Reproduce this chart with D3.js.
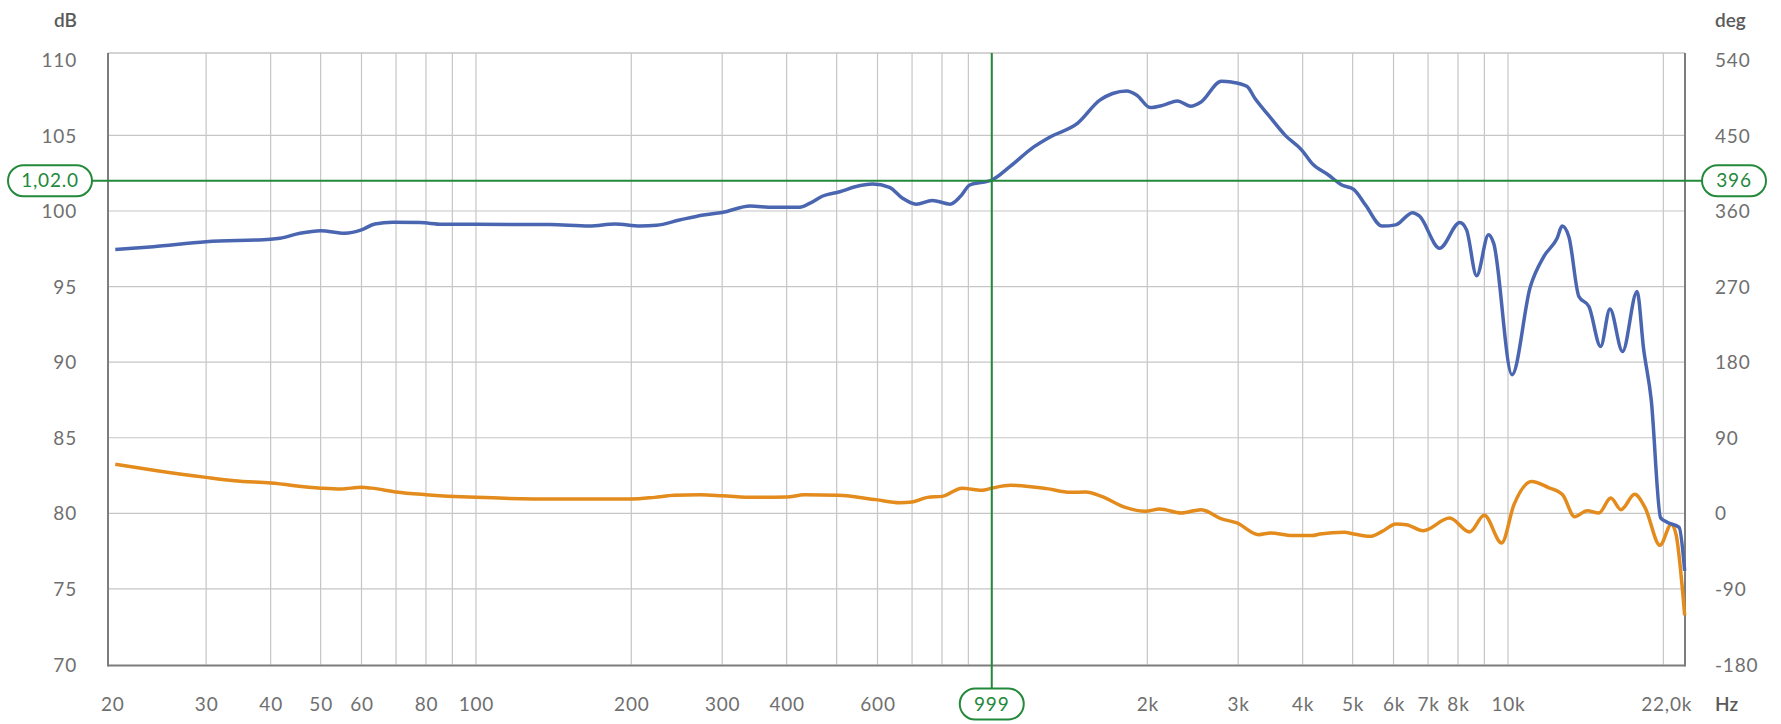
<!DOCTYPE html>
<html><head><meta charset="utf-8">
<script src="https://cdn.jsdelivr.net/npm/d3@7"></script>
<style>
body{margin:0;background:#fff}
svg{display:block;background:#fff}
text{font-family:Lato,'Open Sans',sans-serif}
</style>
</head><body>
<svg id="chart" width="1781" height="724"></svg>
<script>
// ---- data ----
const magFreq = [20,23.7,30,40,41.7,45.6,50,55.7,60,63.7,69,78,86,100,139,166,186,208,224,248,276,300,340,376,424,443,470,507,543,587,633,671,713,766,830,868,906,1000,1083,1205,1296,1464,1618,1713,1824,1909,2026,2150,2287,2427,2542,2782,2910,3118,3234,3434,3697,3984,4170,4487,4764,5023,5293,5705,6058,6531,6732,7371,8066,8311,8694,9167,9378,10180,11050,11730,12450,12730,13120,13720,14350,15120,15760,16670,17790,18310,18950,19760,20380,21460,22000];
const magDb = [97.45,97.64,97.97,98.13,98.2,98.53,98.7,98.53,98.75,99.14,99.25,99.23,99.12,99.12,99.1,99.0,99.14,99.0,99.05,99.4,99.74,99.9,100.33,100.24,100.24,100.5,100.99,101.27,101.6,101.78,101.56,100.84,100.45,100.7,100.45,100.95,101.72,102.05,102.93,104.24,104.9,105.79,107.33,107.77,107.94,107.66,106.84,107.0,107.28,106.93,107.21,108.58,108.53,108.25,107.44,106.34,105.02,104.03,103.15,102.38,101.72,101.43,100.4,99.0,99.08,99.89,99.67,97.54,99.23,98.75,95.71,98.42,97.87,89.17,95.0,96.98,98.2,99.0,98.3,94.34,93.68,91.04,93.51,90.71,94.67,90.9,87.5,79.7,79.4,79.07,76.2];

const phaseFreq = [20,24.1,30,34,40,50,54.7,60,62.8,70,80,100,145,200,222,242,272,300,345,400,433,503,596,662,700,750,801,875,956,1000,1086,1276,1418,1519,1630,1813,1983,2114,2327,2541,2777,2982,3287,3467,3820,4170,4322,4816,5023,5412,5705,6070,6353,6851,7708,8425,8997,9720,10270,11120,11950,12760,13460,14240,15000,15820,16560,17600,18450,19700,20730,21170,22000];
const phaseDeg = [58.5,50.8,42.8,38.9,36,30,29,31,30,25.4,22.2,19,17,17,19,21.4,22,21,19,19.4,22,21.4,16.3,12.7,13.5,19,20.2,30,27.4,30,33.3,29.4,25,25.4,20.2,7.1,2.4,5.2,0.4,4.4,-6.3,-11.5,-25.4,-23.4,-26.5,-26.5,-24.6,-22.6,-24.6,-27.4,-21.4,-12.7,-13.5,-20.6,-5.6,-22.2,-2.4,-35.3,10.3,38,31,22.2,-4,3.2,0.4,18.2,4.4,22.6,6.3,-38,-12.9,-25.4,-121.5];

const leftTicks = [70,75,80,85,90,95,100,105,110];
const rightTicks = [-180,-90,0,90,180,270,360,450,540];
const rightTickLabels = ["-180","-90","0","90","180","270","360","450","540"];
const xTickValues = [20,30,40,50,60,80,100,200,300,400,600,2000,3000,4000,5000,6000,7000,8000,10000,22000];
const xTickLabels = ["20","30","40","50","60","80","100","200","300","400","600","2k","3k","4k","5k","6k","7k","8k","10k","22,0k"];
const gridDecades = [10,100,1000,10000];
const cursorFreq = 999, cursorDb = 102.0, cursorDeg = 396;
const cursorLabels = {left:"1,02.0", right:"396", bottom:"999"};
const unitLabels = {left:"dB", right:"deg", x:"Hz"};

// ---- layout ----
const L = 108, R = 1685, T = 53, B = 664.5;
const xMin = 19.36, xMax = 22030, yTop = 110.45;
const svg = d3.select("#chart");
const x = d3.scaleLog().domain([xMin, xMax]).range([L, R]);
const y = d3.scaleLinear().domain([70, yTop]).range([B, T]);
const yR = d3.scaleLinear().domain([-180, (yTop - 80) * 18]).range([B, T]);

const GRID = "#c6c6c6", FRAME = "#7d7d7d", TXT = "#6f6f6f", GREEN = "#23893b";
const BLUE = "#4a66b1", ORANGE = "#e38b1c";

// vertical grid (first grid line is at 30 Hz)
const vGrid = [];
gridDecades.forEach(d => { for (let k = 1; k <= 9; k++) { const f = d * k; if (f > 25 && f < xMax) vGrid.push(f); } });
svg.append("g").selectAll("line").data(vGrid).join("line")
  .attr("x1", d => x(d)).attr("x2", d => x(d)).attr("y1", T).attr("y2", B)
  .attr("stroke", GRID).attr("stroke-width", 1.2);
// horizontal grid
svg.append("g").selectAll("line").data(leftTicks.filter(v => v > 70 && v < 110)).join("line")
  .attr("x1", L).attr("x2", R).attr("y1", d => y(d)).attr("y2", d => y(d))
  .attr("stroke", GRID).attr("stroke-width", 1.2);

// frame
svg.append("line").attr("x1", L).attr("x2", R).attr("y1", T).attr("y2", T).attr("stroke", "#c4c4c4").attr("stroke-width", 1.5);
svg.append("line").attr("x1", L).attr("x2", R).attr("y1", B + 1).attr("y2", B + 1).attr("stroke", FRAME).attr("stroke-width", 2);
svg.append("line").attr("x1", L).attr("x2", L).attr("y1", T).attr("y2", B + 2).attr("stroke", FRAME).attr("stroke-width", 2);
svg.append("line").attr("x1", R).attr("x2", R).attr("y1", T).attr("y2", B + 2).attr("stroke", FRAME).attr("stroke-width", 2);

const tickFont = sel => sel.attr("fill", TXT).style("font-size", "19px").style("letter-spacing", "0.8px").attr("dy", "0.35em");

// left axis
const axL = d3.axisLeft(y).tickValues(leftTicks).tickFormat(d => String(d)).tickSize(0).tickPadding(0);
const gL = svg.append("g").attr("transform", `translate(${L - 31},0)`).call(axL);
gL.select(".domain").remove();
gL.selectAll("text").call(tickFont);

// right axis
const axR = d3.axisRight(yR).tickValues(rightTicks).tickFormat((d, i) => rightTickLabels[i]).tickSize(0).tickPadding(0);
const gR = svg.append("g").attr("transform", `translate(${R + 30},0)`).call(axR);
gR.select(".domain").remove();
gR.selectAll("text").call(tickFont);

// bottom axis
const axB = d3.axisBottom(x).tickValues(xTickValues).tickFormat((d, i) => xTickLabels[i]).tickSize(0).tickPadding(0);
const gB = svg.append("g").attr("transform", `translate(0,704)`).call(axB);
gB.select(".domain").remove();
gB.selectAll("text").call(tickFont)
  .attr("text-anchor", (d) => d === 22000 ? "end" : "middle")
  .attr("dx", (d) => d === 22000 ? 7 : (d === 20 ? -3 : 0));

// unit labels
svg.append("text").attr("x", 77).attr("y", 20).attr("dy", "0.35em").attr("text-anchor", "end")
  .attr("fill", "#5a5a5a").style("font-size", "19px").style("font-weight", 600).text(unitLabels.left);
svg.append("text").attr("x", 1715).attr("y", 20).attr("dy", "0.35em")
  .attr("fill", "#5a5a5a").style("font-size", "19px").style("font-weight", 600).text(unitLabels.right);
svg.append("text").attr("x", 1715).attr("y", 704).attr("dy", "0.35em")
  .attr("fill", "#5a5a5a").style("font-size", "19px").style("font-weight", 600).text(unitLabels.x);

// curves
const magData = magFreq.map((f, i) => [f, magDb[i]]);
const phData = phaseFreq.map((f, i) => [f, phaseDeg[i]]);
svg.append("path").datum(phData)
  .attr("d", d3.line().x(d => x(d[0])).y(d => yR(d[1])).curve(d3.curveMonotoneX))
  .attr("fill", "none").attr("stroke", ORANGE).attr("stroke-width", 3.5).attr("stroke-linejoin", "round");
svg.append("path").datum(magData)
  .attr("d", d3.line().x(d => x(d[0])).y(d => y(d[1])).curve(d3.curveMonotoneX))
  .attr("fill", "none").attr("stroke", BLUE).attr("stroke-width", 3.5).attr("stroke-linejoin", "round");

// cursor
const cx = x(cursorFreq), cy = y(cursorDb);
svg.append("line").attr("x1", 92).attr("x2", 1702).attr("y1", cy).attr("y2", cy).attr("stroke", GREEN).attr("stroke-width", 2);
svg.append("line").attr("x1", cx).attr("x2", cx).attr("y1", T).attr("y2", 689).attr("stroke", GREEN).attr("stroke-width", 2);

function badge(xc, yc, w, h, label) {
  svg.append("rect").attr("x", xc - w / 2).attr("y", yc - h / 2).attr("width", w).attr("height", h)
    .attr("rx", h / 2).attr("ry", h / 2).attr("fill", "#fff").attr("stroke", GREEN).attr("stroke-width", 2);
  svg.append("text").attr("x", xc).attr("y", yc).attr("dy", "0.35em").attr("text-anchor", "middle")
    .attr("fill", GREEN).style("font-size", "19px").style("letter-spacing", "0.8px").text(label);
}
badge(50, cy, 84, 31, cursorLabels.left);
badge(1734, y(80 + cursorDeg / 18), 64, 31, cursorLabels.right);
badge(cx, 704, 64, 31, cursorLabels.bottom);
</script>
</body></html>
